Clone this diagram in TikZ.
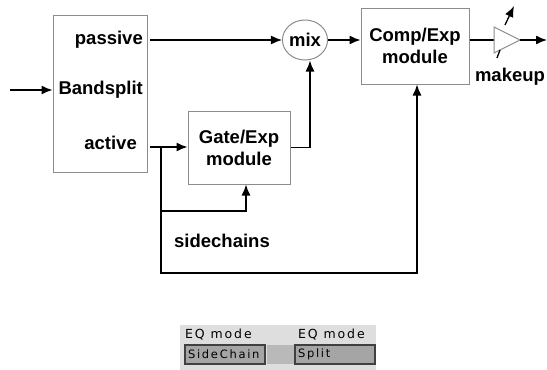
\documentclass[tikz,border=0pt]{standalone}
\usepackage{fontspec}
\setmainfont{Liberation Sans}
\newfontfamily\panelfont[LetterSpace=15]{DejaVu Sans}
\usepackage{xcolor}
\usetikzlibrary{positioning,shapes.geometric,arrows.meta}
\definecolor{boxgray}{RGB}{140,140,140}
\definecolor{panelbg}{RGB}{222,222,222}
\definecolor{btngray}{RGB}{165,165,165}
\begin{document}
\begin{tikzpicture}[x=1pt,y=-1pt,
  arr/.style={-{Latex[length=11pt,width=9pt]},line width=1.3pt},
  wire/.style={line width=1.3pt},
  blk/.style={draw=boxgray,line width=1pt,inner sep=0pt},
  lbl/.style={font=\bfseries\fontsize{18.5}{22}\selectfont,inner sep=0pt},
  btn/.style={draw=black!75,line width=1.2pt,fill=btngray,inner sep=0pt,minimum width=80pt,minimum height=19pt,text width=74pt,align=left,font=\panelfont\fontsize{11.5}{12}\selectfont},
  ptxt/.style={font=\panelfont\fontsize{12.5}{13}\selectfont,inner sep=0pt,anchor=west}]
\useasboundingbox (0,0) rectangle (547,370);
% bandsplit block
\node[blk,minimum width=94pt,minimum height=157pt] (split) at (100,93.5) {};
\node[lbl,anchor=east] (passive) at (143,40) {passive};
\node[lbl,anchor=east] (bandsplit) at (143,90) {Bandsplit};
\node[lbl,anchor=east] (active) at (137,143) {active};
% modules
\node[blk,ellipse,minimum width=44pt,minimum height=40pt,lbl] (mix) at (305,40) {mix};
\node[blk,minimum width=108pt,minimum height=76pt,lbl,align=center] (comp) at (415,46) {Comp/Exp\\module};
\node[blk,minimum width=102pt,minimum height=73pt,lbl,align=center] (gate) at (239,147.5) {Gate/Exp\\module};
\node[lbl] (makeup) at (510,77) {makeup};
\node[lbl] (sidechains) at (222,241) {sidechains};
\coordinate (in) at (10,90); \coordinate (tap) at (161,147);
\coordinate (gsc) at (246,211); \coordinate (csc) at (417,273);
\coordinate (ampin) at (494,40); \coordinate (ampout) at (520,40); \coordinate (out) at (547,40);
% signal flow
\draw[arr] (in) -- (split.west |- in);
\draw[arr,shorten <=7pt] (passive.east) -- (mix.west |- passive.east);
\draw[wire,shorten <=13pt] (active.east |- tap) -- (tap);
\draw[arr] (tap) -- (gate.west |- tap);
\draw[arr] (tap) |- (gsc) -- (gsc |- gate.south);
\draw[arr] (tap) |- (csc) -- (csc |- comp.south);
\draw[arr] (gate.east) -| ([xshift=5pt]mix.south);
\draw[arr] (mix.east) -- (comp.west |- mix.east);
\draw[wire] (comp.east |- ampin) -- (ampin);
\draw[boxgray,line width=1pt] (ampin) -- (494,27) -- (ampout) -- (494,53) -- cycle;
\draw[arr] (ampout) -- (out);
\draw[arr] (505,25) -- (514,6); \draw[wire] (500,50) -- (497,58);
% EQ mode panel
\node[fill=panelbg,minimum width=196pt,minimum height=45pt,inner sep=0pt] (panel) at (278,347.5) {};
\node[ptxt] (eqa) at (185,335) {EQ mode}; \node[ptxt] (eqb) at (298,335) {EQ mode};
\node[btn] (chainbtn) at (225,354.5) {SideChain};
\node[fill=gray!55,minimum width=27pt,minimum height=19pt,inner sep=0pt] (gap) at (280.5,354.5) {};
\node[btn] (splitbtn) at (335,354.5) {Split};
\end{tikzpicture}
\end{document}
